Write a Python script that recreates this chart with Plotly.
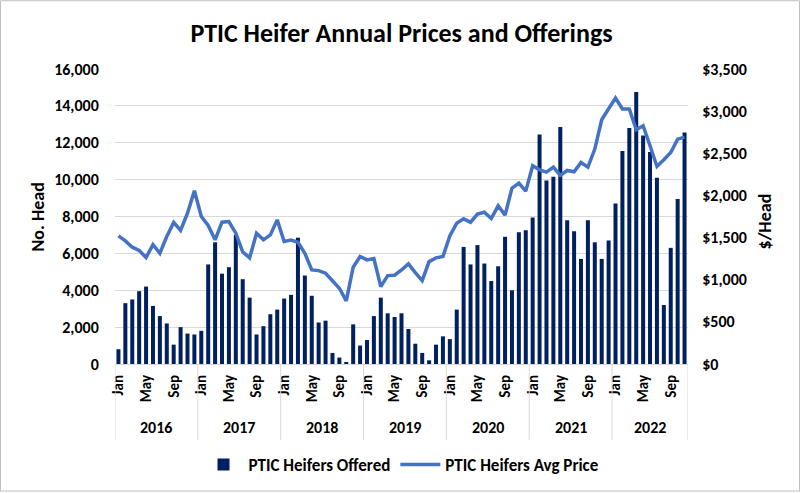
import plotly.graph_objects as go

years = ["2016", "2017", "2018", "2019", "2020", "2021", "2022"]
month_names = ["Jan", "Feb", "Mar", "Apr", "May", "Jun", "Jul", "Aug", "Sep", "Oct", "Nov", "Dec"]
months_per_year = [12, 12, 12, 12, 12, 12, 11]

offered = [
    800, 3300, 3500, 3950, 4200, 3150, 2600, 2200, 1050, 2000, 1650, 1600,
    1800, 5400, 6600, 4900, 5250, 7000, 4600, 3600, 1600, 2050, 2700, 2950,
    3550, 3750, 6850, 4800, 3700, 2250, 2350, 600, 350, 100, 2150, 1000,
    1300, 2600, 3600, 2750, 2550, 2750, 1900, 1100, 600, 200, 1050, 1500,
    1350, 2950, 6350, 5400, 6450, 5450, 4500, 5300, 6900, 4000, 7150, 7250,
    7950, 12450, 9950, 10150, 12850, 7800, 7200, 5700, 7800, 6600, 5700, 6700,
    8700, 11550, 12800, 14750, 12400, 11500, 10100, 3200, 6300, 8950, 12550,
]
price = [
    1520, 1461, 1386, 1346, 1263, 1417, 1314, 1512, 1679, 1584, 1789, 2055,
    1750, 1643, 1473, 1683, 1690, 1552, 1330, 1259, 1552, 1473, 1532, 1710,
    1453, 1470, 1445, 1314, 1116, 1108, 1077, 990, 899, 748, 1148, 1275,
    1235, 1251, 918, 1049, 1053, 1116, 1188, 1085, 990, 1215, 1259, 1275,
    1520, 1671, 1722, 1682, 1778, 1801, 1726, 1877, 1766, 2086, 2146, 2051,
    2352, 2304, 2276, 2336, 2237, 2296, 2280, 2391, 2336, 2550, 2898, 3029,
    3155, 3025, 3025, 2779, 2827, 2589, 2344, 2423, 2510, 2668, 2692,
]

labels = []
for y, n in zip(years, months_per_year):
    for m in range(n):
        labels.append(month_names[m])
x_idx = list(range(len(offered)))

NAVY = "#002060"
BLUE = "#4472C4"
FONT = "Carlito, Lato, sans-serif"

fig = go.Figure()
fig.add_trace(go.Bar(
    x=x_idx, y=offered, name="PTIC Heifers Offered",
    marker=dict(color=NAVY, line=dict(width=0)),
))
fig.add_trace(go.Scatter(
    x=x_idx, y=price, name="PTIC Heifers Avg Price", yaxis="y2",
    mode="lines", line=dict(color=BLUE, width=3.5),
))

tickvals = [i for i, l in enumerate(labels) if l in ("Jan", "May", "Sep")]
ticktext = [labels[i] for i in tickvals]

W, H = 800, 493
ml, mr, mt, mb = 115, 112, 69, 128
pw, ph = W - ml - mr, H - mt - mb

def px_x(p):
    return (p - ml) / pw

def px_y(p):
    return (H - mb - p) / ph

shapes = []
annotations = []
start = 0
bounds = [-0.5]
for y, n in zip(years, months_per_year):
    mid = start + (n - 1) / 2
    annotations.append(dict(x=mid, y=px_y(429), xref="x", yref="paper", text=y,
                            xanchor="center", yanchor="middle",
                            showarrow=False, font=dict(size=16, family=FONT, color="black", weight="bold")))
    start += n
    bounds.append(start - 0.5)
for b in bounds:
    shapes.append(dict(type="line", xref="x", yref="paper", x0=b, x1=b, y0=0, y1=px_y(441),
                       line=dict(color="#d9d9d9", width=1)))

# outer frame
shapes.append(dict(type="rect", xref="paper", yref="paper",
                   x0=px_x(0.5), x1=px_x(W - 0.5), y0=px_y(H - 0.5), y1=px_y(0.5),
                   line=dict(color="#bfbfbf", width=1)))

annotations.append(dict(x=px_x(38), y=px_y(218), xref="paper", yref="paper", text="No. Head", textangle=-90,
                        xanchor="center", yanchor="middle",
                        showarrow=False, font=dict(size=18, family=FONT, color="black", weight="bold")))
annotations.append(dict(x=px_x(765), y=px_y(222), xref="paper", yref="paper", text="$/Head", textangle=-90,
                        xanchor="center", yanchor="middle",
                        showarrow=False, font=dict(size=18, family=FONT, color="black", weight="bold")))

tickfont = dict(size=16, family=FONT, color="black", weight="bold")

fig.update_layout(
    width=W, height=H,
    margin=dict(l=ml, r=mr, t=mt, b=mb),
    paper_bgcolor="white", plot_bgcolor="white",
    title=dict(text="PTIC Heifer Annual Prices and Offerings", x=0.5, xref="paper", y=1 - 33 / H,
               xanchor="center", yanchor="middle",
               font=dict(size=26, family=FONT, color="black", weight="bold")),
    bargap=0.42,
    xaxis=dict(range=[-0.5, len(offered) - 0.5], tickmode="array", tickvals=tickvals, ticktext=ticktext,
               tickangle=-90, tickfont=dict(size=15, family=FONT, color="black", weight="bold"),
               showgrid=False, zeroline=False,
               showline=True, linecolor="#d9d9d9", linewidth=1, ticks="outside", ticklen=4,
               tickcolor="rgba(0,0,0,0)"),
    yaxis=dict(range=[0, 16000], dtick=2000, tickformat=",", tickfont=tickfont,
               showgrid=True, gridcolor="#d9d9d9", gridwidth=1, zeroline=False, ticks="outside",
               ticklen=12, tickcolor="white"),
    yaxis2=dict(range=[0, 3500], dtick=500, tickprefix="$", tickformat=",", tickfont=tickfont,
                overlaying="y", side="right", showgrid=False, zeroline=False, ticks="outside",
                ticklen=10, tickcolor="white"),
    legend=dict(orientation="h", x=0.5, xanchor="center", y=px_y(465), yanchor="middle",
                font=dict(size=17, family=FONT, color="black", weight="bold"), traceorder="normal",
                itemwidth=40),
    shapes=shapes, annotations=annotations,
    showlegend=True,
)

fig.write_html("out.html", config={"displayModeBar": False},
               post_script="document.body.style.margin='0';document.body.style.overflow='hidden';")
